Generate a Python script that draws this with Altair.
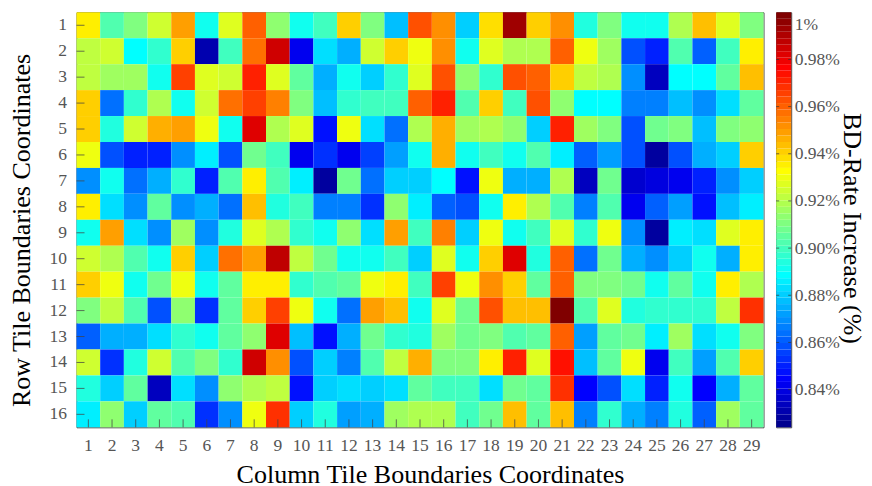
import altair as alt
import pandas as pd

rows = list(range(1, 17))
cols = list(range(1, 30))
r01 = [.934,.903,.910,.923,.949,.892,.928,.961,.913,.891,.899,.940,.910,.877,.962,.953,.879,.938,.993,.940,.953,.893,.910,.890,.890,.918,.945,.928,.911]
r02 = [.921,.925,.889,.896,.942,.830,.899,.956,.984,.842,.883,.875,.923,.940,.930,.953,.892,.927,.920,.920,.961,.931,.915,.857,.851,.901,.861,.900,.936]
r03 = [.921,.917,.915,.890,.966,.927,.924,.972,.928,.906,.875,.890,.881,.896,.928,.964,.914,.896,.962,.960,.941,.921,.918,.870,.834,.888,.888,.905,.945]
r04 = [.942,.864,.896,.918,.890,.924,.956,.965,.954,.911,.878,.897,.899,.899,.961,.972,.901,.942,.900,.963,.913,.888,.888,.866,.866,.877,.869,.883,.904]
r05 = [.942,.894,.925,.946,.948,.930,.890,.981,.918,.927,.846,.930,.883,.863,.920,.946,.916,.920,.914,.881,.972,.915,.911,.857,.907,.910,.878,.910,.913]
r06 = [.930,.857,.850,.850,.870,.887,.859,.907,.900,.842,.853,.843,.855,.872,.890,.946,.890,.900,.890,.902,.886,.862,.873,.859,.827,.859,.875,.881,.941]
r07 = [.870,.890,.864,.875,.896,.849,.903,.936,.903,.887,.829,.907,.863,.879,.879,.888,.846,.930,.876,.876,.920,.833,.908,.837,.840,.843,.851,.868,.881]
r08 = [.936,.882,.870,.905,.868,.876,.863,.944,.893,.899,.867,.867,.853,.914,.887,.862,.859,.890,.936,.920,.903,.867,.903,.843,.862,.871,.846,.878,.887]
r09 = [.890,.950,.883,.868,.916,.868,.894,.927,.918,.897,.891,.914,.883,.950,.899,.954,.880,.930,.890,.899,.927,.896,.930,.870,.828,.887,.883,.927,.936]
r10 = [.924,.918,.903,.890,.940,.881,.956,.948,.987,.921,.908,.891,.890,.899,.881,.927,.890,.940,.981,.893,.960,.863,.908,.876,.870,.881,.890,.875,.936]
r11 = [.941,.930,.890,.907,.930,.890,.906,.934,.934,.897,.901,.905,.930,.936,.900,.966,.930,.951,.942,.906,.960,.910,.911,.909,.890,.906,.890,.934,.920]
r12 = [.910,.921,.903,.859,.913,.854,.904,.942,.965,.930,.891,.864,.948,.945,.890,.926,.908,.963,.945,.945,1.00,.902,.928,.893,.896,.896,.896,.922,.969]
r13 = [.862,.875,.875,.882,.897,.891,.906,.913,.981,.878,.846,.875,.909,.896,.895,.916,.908,.910,.902,.906,.960,.871,.905,.909,.887,.916,.883,.891,.910]
r14 = [.924,.854,.893,.925,.903,.910,.897,.984,.952,.859,.880,.867,.903,.921,.946,.910,.910,.934,.972,.928,.974,.877,.906,.930,.842,.900,.872,.903,.940]
r15 = [.895,.879,.906,.834,.883,.870,.913,.918,.921,.846,.880,.884,.881,.882,.906,.900,.900,.883,.908,.906,.969,.844,.859,.884,.850,.890,.844,.875,.904]
r16 = [.887,.914,.881,.905,.901,.853,.868,.930,.969,.879,.893,.873,.876,.916,.920,.920,.900,.908,.945,.906,.944,.867,.896,.876,.867,.893,.861,.916,.906]
matrix = [r01,r02,r03,r04,r05,r06,r07,r08,r09,r10,r11,r12,r13,r14,r15,r16]
bar_ticks = [0.84, 0.86, 0.88, 0.90, 0.92, 0.94, 0.96, 0.98]
bar_label_values = bar_ticks + [0.995]

vmin, vmax, n = 0.824, 1.0, 64
FONT = "Liberation Serif"
W, H = 687, 415

def jet(t):
    c = lambda x: max(0.0, min(1.0, x))
    r = c(min(4*t-1.5, -4*t+4.5)); g = c(min(4*t-0.5, -4*t+3.5)); b = c(min(4*t+0.5, -4*t+2.5))
    return "#%02x%02x%02x" % (round(r*255), round(g*255), round(b*255))
palette = [jet((i+1)/n) for i in range(n)]
color_scale = alt.Scale(type="quantize", domain=[vmin, vmax], range=palette)

cells = pd.DataFrame([{"row": r, "col": c, "v": matrix[i][j]} for i, r in enumerate(rows) for j, c in enumerate(cols)])

xs = alt.Scale(domain=cols, paddingInner=0, paddingOuter=0)
ys = alt.Scale(domain=rows, paddingInner=0, paddingOuter=0)
text_style = dict(labelFont=FONT, labelFontSize=17.5, labelColor="#555555",
                  titleFont=FONT, titleFontSize=26, titleFontWeight="normal", titleColor="#000000",
                  ticks=False, domain=False, grid=False)
x_axis = alt.Axis(title="Column Tile Boundaries Coordinates", labelAngle=0, labelPadding=9, titlePadding=8, titleX=353.5, **text_style)
y_axis = alt.Axis(title="Row Tile Boundaries Coordinates", labelPadding=10, titlePadding=15, titleY=217.7, **text_style)

heat = alt.Chart(cells).mark_rect(strokeWidth=0).encode(
    x=alt.X("col:O", scale=xs, axis=x_axis),
    y=alt.Y("row:O", scale=ys, axis=y_axis),
    color=alt.Color("v:Q", scale=color_scale, legend=None),
)
ytick = alt.Chart(pd.DataFrame({"row": rows})).mark_rule(color="#444444", opacity=0.75).encode(
    y=alt.Y("row:O", scale=ys, axis=y_axis), x=alt.value(0), x2=alt.value(8))
xtick = alt.Chart(pd.DataFrame({"col": cols})).mark_rule(color="#444444", opacity=0.75).encode(
    x=alt.X("col:O", scale=xs, axis=x_axis), y=alt.value(H-8), y2=alt.value(H))
left = alt.layer(heat, ytick, xtick).properties(width=W, height=H)

step = (vmax - vmin) / n
bands = pd.DataFrame({"lo": [vmin + i*step for i in range(n)], "hi": [vmin + (i+1)*step for i in range(n)]})
bands["mid"] = (bands.lo + bands.hi) / 2
bys = alt.Scale(domain=[vmin, vmax], nice=False, zero=False)
bar_axis = alt.Axis(orient="right", title="BD-Rate Increase (%)", values=bar_label_values,
                    labelExpr="datum.value > 0.99 ? '1%' : format(datum.value, '.2f') + '%'",
                    labelPadding=3, titlePadding=-1, titleY=215.7, **text_style)
bar = alt.Chart(bands).mark_rect(strokeWidth=0).encode(
    x=alt.value(0), x2=alt.value(15),
    y=alt.Y("lo:Q", scale=bys, axis=bar_axis),
    y2="hi:Q",
    color=alt.Color("mid:Q", scale=color_scale, legend=None),
)
tk = pd.DataFrame({"t": bar_ticks})
t1 = alt.Chart(tk).mark_rule(color="#333333", opacity=0.7).encode(y=alt.Y("t:Q", scale=bys, axis=bar_axis), x=alt.value(0), x2=alt.value(3))
t2 = alt.Chart(tk).mark_rule(color="#333333", opacity=0.7).encode(y=alt.Y("t:Q", scale=bys, axis=bar_axis), x=alt.value(12), x2=alt.value(15))
right = alt.layer(bar, t1, t2).properties(width=15, height=H)

chart = alt.hconcat(left, right, spacing=10.7).properties(
    autosize=alt.AutoSizeParams(type="none"),
    padding={"left": 68.5, "top": 4.3, "right": 787.5, "bottom": 465.7}, background="#ffffff"
).configure_view(stroke="#444444", strokeWidth=1)

chart.save("out.html", embed_options={"renderer": "svg", "actions": False})
